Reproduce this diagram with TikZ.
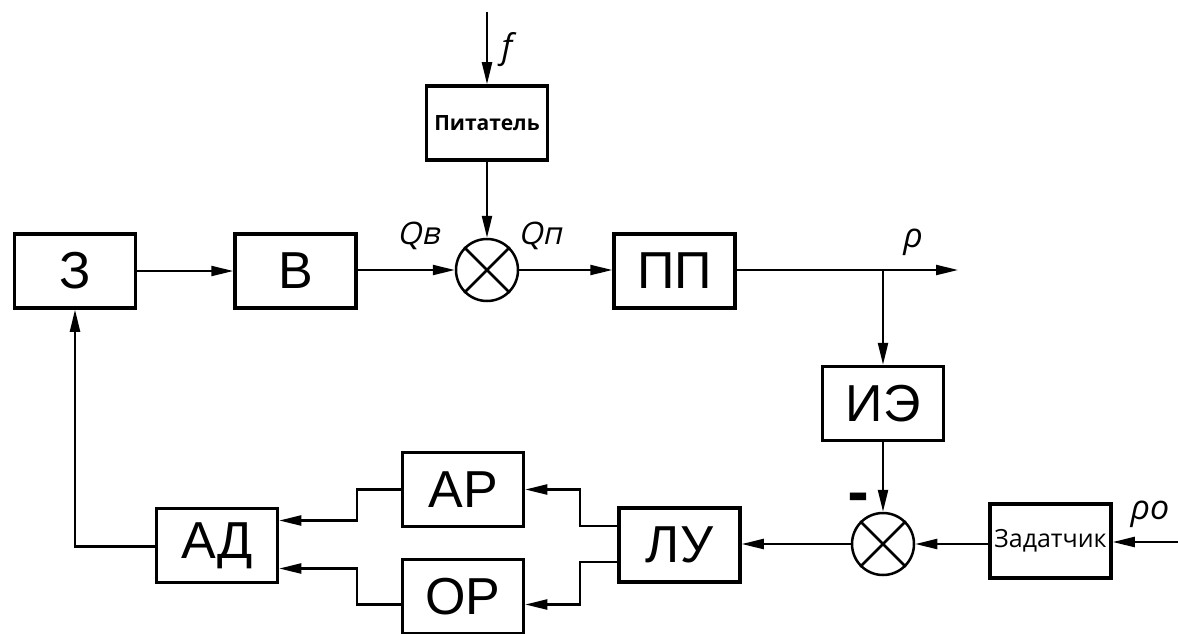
\documentclass[tikz,border=0pt]{standalone}
\usepackage{fontspec}
\setmainfont{Liberation Sans}
\newfontfamily\osans{Open Sans}
\newfontfamily\oslant[FakeSlant=0.22]{Open Sans}
\usetikzlibrary{arrows.meta}
\begin{document}
\begin{tikzpicture}[x=1pt,y=-1pt,
  blk/.style={draw, line width=3.5pt, minimum width=121pt, minimum height=74pt, inner sep=0pt,
    font=\fontsize{52}{52}\selectfont},
  smallblk/.style={draw, line width=3.5pt, minimum width=121pt, minimum height=74pt, inner sep=0pt},
  sumnode/.style={draw, circle, line width=2.5pt, minimum size=62pt, inner sep=0pt},
  conn/.style={line width=2.4pt},
  arr/.style={conn, -{Triangle[length=22pt,width=10pt]}},
  lbl/.style={font=\osans\itshape\fontsize{34}{34}\selectfont, inner sep=0pt},
  slbl/.style={font=\oslant\fontsize{31}{31}\selectfont, inner sep=0pt}
]
\useasboundingbox (0,0) rectangle (1178,634);

% main row
\node[blk] (z) at (75,271) {З};
\node[blk] (v) at (295.5,271) {В};
\node[sumnode] (s1) at (487,270) {};
\draw[line width=2.5pt] (s1.north east) -- (s1.south west) (s1.north west) -- (s1.south east);
\node[blk] (pp) at (674.5,271) {ПП};
\node[smallblk, font=\osans\bfseries\fontsize{21}{21}\selectfont] (pit) at (487,123) {Питатель};

% right column
\node[blk] (ie) at (883,403.5) {ИЭ};
\node[sumnode] (s2) at (883,544) {};
\draw[line width=2.5pt] (s2.north east) -- (s2.south west) (s2.north west) -- (s2.south east);
\node[smallblk, font=\osans\fontsize{25}{25}\selectfont] (zad) at (1050.5,541) {Задатчик};

% lower row
\node[blk] (lu) at (679.5,545) {ЛУ};
\node[blk] (ar) at (463,489.5) {АР};
\node[blk] (or) at (463,596.5) {ОР};
\node[blk] (ad) at (217,545.5) {АД};

% free ends
\coordinate (ftop) at (487,12);
\coordinate (rhoend) at (958,270);
\coordinate (br) at (883,270);
\coordinate (rho0) at (1178,542);

% connectors
\draw[arr] (ftop) -- (pit.north);
\draw[arr] (pit.south) -- (s1.north);
\draw[arr] (z.east) -- (v.west);
\draw[arr] (v.east |- s1.west) -- (s1.west);
\draw[arr] (s1.east) -- (pp.west |- s1.east);
\draw[arr] (pp.east |- rhoend) -- (rhoend);
\draw[arr] (br) -- (ie.north);
\draw[arr] (ie.south) -- (s2.north);
\draw[arr] (rho0) -- (zad.east |- rho0);
\draw[arr] (zad.west |- s2.east) -- (s2.east);
\draw[arr] (s2.west) -- (lu.east |- s2.west);
\draw[arr] ([yshift=19pt]lu.west) -- ++(-37,0) |- (ar.east);
\draw[arr] ([yshift=-17pt]lu.west) -- ++(-37,0) |- ([yshift=-8pt]or.east);
\draw[arr] (ar.west) -- ++(-44,0) |- ([yshift=25pt]ad.east);
\draw[arr] ([yshift=-8pt]or.west) -- ++(-44,0) |- ([yshift=-23pt]ad.east);
\draw[arr] ([yshift=-1pt]ad.west) -| (z.south);

% labels
\node[lbl] (lf) at (507,50) {f};
\node[slbl] (lqv) at (418,236) {Qв};
\node[slbl] (lqp) at (540,236) {Qп};
\node[lbl] (lrho) at (913,242) {ρ};
\node[lbl] (lrho0) at (1150,514) {ρo};
\node[font=\osans\bfseries\fontsize{62}{62}\selectfont, inner sep=0pt] (minus) at (858,503) {-};
\end{tikzpicture}
\end{document}
